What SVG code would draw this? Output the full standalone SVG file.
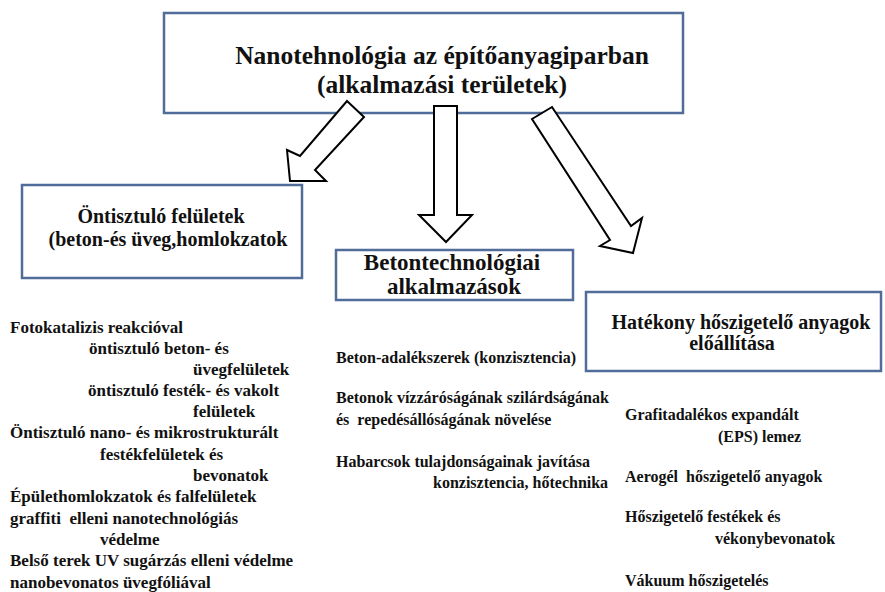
<svg xmlns="http://www.w3.org/2000/svg" width="885" height="592" viewBox="0 0 885 592">
<style>
.box{fill:#fff;stroke:#4f6d98;stroke-width:2.5}
.arr{fill:#fff;stroke:#000;stroke-width:2;stroke-linejoin:miter}
text{font-family:'Liberation Serif','Times New Roman',Tinos,'DejaVu Serif',serif;font-weight:700;fill:#111}
.h1{font-size:25.5px}
.h2{font-size:20px}
.h3{font-size:23px}
.l{font-size:17px}
.m{font-size:16px}
</style>
<rect width="885" height="592" fill="#fff"/>
<g id="top">
<rect class="box" x="164" y="13" width="519" height="100"/>
<text class="h1" x="442" y="64" text-anchor="middle" font-family="Liberation Serif, serif">Nanotehnológia az építőanyagiparban</text>
<text class="h1" x="442" y="93" text-anchor="middle" font-family="Liberation Serif, serif">(alkalmazási területek)</text>
</g>
<g id="onti">
<rect class="box" x="22" y="185" width="280" height="93"/>
<text class="h2" x="161" y="223" text-anchor="middle">Öntisztuló felületek</text>
<text class="h2" x="168" y="246" text-anchor="middle">(beton-és üveg,homlokzatok</text>
</g>
<g id="beton">
<rect class="box" x="336" y="250" width="237" height="50"/>
<text class="h3" x="452" y="270" text-anchor="middle">Betontechnológiai</text>
<text class="h3" x="454" y="294" text-anchor="middle">alkalmazások</text>
</g>
<g id="hoszig">
<rect class="box" x="586" y="292" width="295" height="79"/>
<text class="h2" x="741" y="329" text-anchor="middle">Hatékony hőszigetelő anyagok</text>
<text class="h2" x="732" y="350" text-anchor="middle">előállítása</text>
</g>
<g id="connectors">
<polygon class="arr" points="347,101 364,117 315,170 326,181 290,181 287,150 300,156"/>
<polygon class="arr" points="434,106 457,106 457,215 472,215 446,242 419,215 434,215"/>
<polygon class="arr" points="532,119 552,107 631,226 642,218 633,253 600,246 610,240"/>
</g>
<g id="list-left">
<text class="l" x="10" y="333">Fotokatalizis reakcióval</text>
<text class="l" x="89" y="354">öntisztuló beton- és</text>
<text class="l" x="193" y="375">üvegfelületek</text>
<text class="l" x="88" y="396">öntisztuló festék- és vakolt</text>
<text class="l" x="193" y="417">felületek</text>
<text class="l" x="10" y="438">Öntisztuló nano- és mikrostrukturált</text>
<text class="l" x="100" y="460">festékfelületek és</text>
<text class="l" x="193" y="481">bevonatok</text>
<text class="l" x="10" y="502">Épülethomlokzatok és falfelületek</text>
<text class="l" x="10" y="524" xml:space="preserve">graffiti  elleni nanotechnológiás</text>
<text class="l" x="100" y="545">védelme</text>
<text class="l" x="10" y="566">Belső terek UV sugárzás elleni védelme</text>
<text class="l" x="10" y="588">nanobevonatos üvegfóliával</text>
</g>
<g id="list-mid">
<text class="m" x="336" y="363">Beton-adalékszerek (konzisztencia)</text>
<text class="m" x="336" y="403">Betonok vízzáróságának szilárdságának</text>
<text class="m" x="336" y="425" xml:space="preserve">és  repedésállóságának növelése</text>
<text class="m" x="336" y="467">Habarcsok tulajdonságainak javítása</text>
<text class="m" x="433" y="488">konzisztencia, hőtechnika</text>
</g>
<g id="list-right">
<text class="m" x="625" y="420">Grafitadalékos expandált</text>
<text class="m" x="718" y="442">(EPS) lemez</text>
<text class="m" x="625" y="482" xml:space="preserve">Aerogél  hőszigetelő anyagok</text>
<text class="m" x="625" y="522">Hőszigetelő festékek és</text>
<text class="m" x="715" y="544">vékonybevonatok</text>
<text class="m" x="625" y="586">Vákuum hőszigetelés</text>
</g>
</svg>
